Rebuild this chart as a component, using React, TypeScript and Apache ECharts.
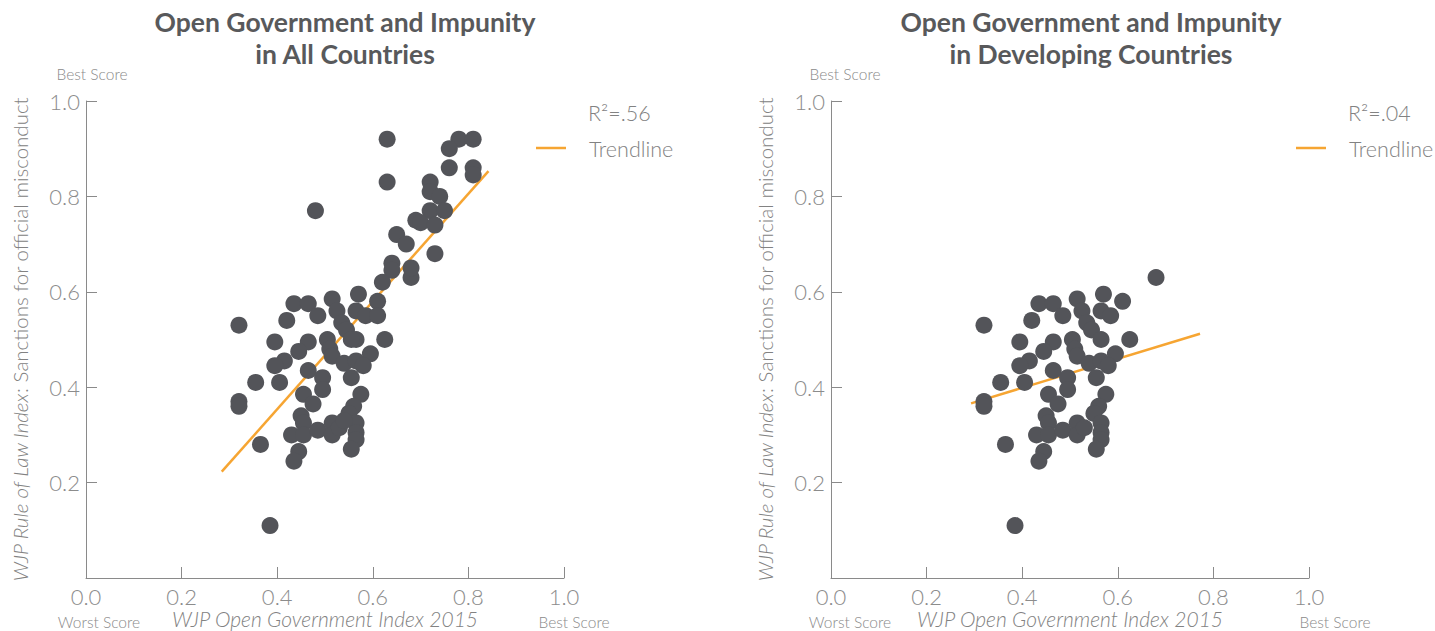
import React, { useEffect, useRef } from 'react';
import * as echarts from 'echarts';

const chartTitles = [
  'Open Government and Impunity\nin All Countries',
  'Open Government and Impunity\nin Developing Countries',
];
const xAxisName = 'WJP Open Government Index 2015';
const yAxisNameItalic = 'WJP Rule of Law Index';
const yAxisNameRest = ': Sanctions for official misconduct';
const rSquaredLabels = ['R\u00b2=.56', 'R\u00b2=.04'];
const legendLabel = 'Trendline';
const bestScore = 'Best Score';
const worstScore = 'Worst Score';

// [open government index, sanctions for official misconduct]
const developingCountries: [number, number][] = [
  [0.68, 0.63], [0.57, 0.595], [0.61, 0.58], [0.515, 0.585], [0.525, 0.56],
  [0.565, 0.56], [0.585, 0.55], [0.435, 0.575], [0.465, 0.575], [0.485, 0.55],
  [0.42, 0.54], [0.32, 0.53], [0.535, 0.535], [0.545, 0.52], [0.565, 0.5],
  [0.625, 0.5], [0.395, 0.495], [0.465, 0.495], [0.505, 0.5], [0.445, 0.475],
  [0.51, 0.48], [0.515, 0.465], [0.595, 0.47], [0.415, 0.455], [0.395, 0.445],
  [0.465, 0.435], [0.54, 0.45], [0.565, 0.455], [0.58, 0.445], [0.555, 0.42],
  [0.405, 0.41], [0.355, 0.41], [0.495, 0.42], [0.495, 0.395], [0.32, 0.37],
  [0.32, 0.36], [0.455, 0.385], [0.475, 0.365], [0.45, 0.34], [0.455, 0.325],
  [0.43, 0.3], [0.455, 0.3], [0.485, 0.31], [0.515, 0.325], [0.515, 0.3],
  [0.53, 0.315], [0.575, 0.385], [0.56, 0.36], [0.55, 0.345], [0.565, 0.325],
  [0.565, 0.305], [0.565, 0.29], [0.555, 0.27], [0.365, 0.28], [0.445, 0.265],
  [0.435, 0.245], [0.385, 0.11],
];

const developedCountries: [number, number][] = [
  [0.63, 0.92], [0.63, 0.83], [0.48, 0.77], [0.78, 0.92], [0.81, 0.92],
  [0.76, 0.9], [0.76, 0.86], [0.81, 0.86], [0.81, 0.845], [0.72, 0.83],
  [0.72, 0.81], [0.74, 0.8], [0.72, 0.77], [0.75, 0.77], [0.69, 0.75],
  [0.7, 0.745], [0.73, 0.74], [0.65, 0.72], [0.67, 0.7], [0.73, 0.68],
  [0.64, 0.66], [0.64, 0.645], [0.68, 0.65], [0.62, 0.62], [0.61, 0.55],
  [0.555, 0.5], [0.54, 0.33],
];

const allCountries = developingCountries.concat(developedCountries);

const trendAll: [number, number][] = [[0.284, 0.223], [0.842, 0.853]];
const trendDeveloping: [number, number][] = [[0.293, 0.366], [0.772, 0.512]];

const FONT = 'Lato, "Open Sans", sans-serif';
const AXIS_COLOR = '#8a8a8a';
const LABEL_COLOR = '#8c8c8c';
const TEXT_COLOR = '#828282';
const DOT_COLOR = '#535459';
const TREND_COLOR = '#f6a532';

const gridLefts = [86, 831];
const GRID_TOP = 101;
const GRID_W = 478;
const GRID_H = 477;

// per-panel annotation anchors (x positions)
const titleCenters = [340, 1086];
const legendLineX = [536, 1296];
const legendTextX = [588, 1348];
const bestTopX = [92, 845];
const worstX = [99, 850];
const bestBottomX = [574, 1335];

function makeXAxis(gi: number) {
  return {
    type: 'value',
    gridIndex: gi,
    min: 0,
    max: 1,
    interval: 0.2,
    splitLine: { show: false },
    axisLine: { show: true, lineStyle: { color: AXIS_COLOR, width: 1 } },
    axisTick: { show: true, inside: true, length: 11, lineStyle: { color: AXIS_COLOR } },
    axisLabel: {
      formatter: (v: number) => v.toFixed(1),
      color: LABEL_COLOR,
      fontSize: 22,
      lineHeight: 18,
      fontFamily: FONT,
      fontWeight: 300,
      margin: 9,
    },
    name: xAxisName,
    nameLocation: 'middle',
    nameGap: 30,
    nameMoveOverlap: false,
    nameTextStyle: {
      fontStyle: 'italic',
      fontSize: 21,
      lineHeight: 20,
      color: TEXT_COLOR,
      fontFamily: FONT,
      fontWeight: 300,
    },
  };
}

function makeYAxis(gi: number) {
  return {
    type: 'value',
    gridIndex: gi,
    min: 0,
    max: 1,
    interval: 0.2,
    splitLine: { show: false },
    axisLine: { show: true, lineStyle: { color: AXIS_COLOR, width: 1 } },
    axisTick: { show: true, inside: true, length: 11, lineStyle: { color: AXIS_COLOR } },
    axisLabel: {
      formatter: (v: number) => (v === 0 ? '' : v.toFixed(1)),
      color: LABEL_COLOR,
      fontSize: 22,
      fontFamily: FONT,
      fontWeight: 300,
      margin: 6,
    },
    name: `{i|${yAxisNameItalic}}{n|${yAxisNameRest}}`,
    nameLocation: 'middle',
    nameGap: 56,
    nameTextStyle: {
      rich: {
        i: { fontStyle: 'italic', fontSize: 20.5, color: TEXT_COLOR, fontFamily: FONT, fontWeight: 300 },
        n: { fontSize: 20.5, color: TEXT_COLOR, fontFamily: FONT, fontWeight: 300 },
      },
    },
  };
}

function legendGraphics(gi: number) {
  const textStyle = {
    fill: TEXT_COLOR,
    fontSize: 21.5,
    fontFamily: FONT,
    fontWeight: 300,
    textVerticalAlign: 'middle',
  };
  return [
    {
      type: 'text',
      x: legendTextX[gi],
      y: 113,
      style: { ...textStyle, text: rSquaredLabels[gi] },
    },
    {
      type: 'line',
      shape: { x1: legendLineX[gi], y1: 148, x2: legendLineX[gi] + 30, y2: 148 },
      style: { stroke: TREND_COLOR, lineWidth: 2.5 },
    },
    {
      type: 'text',
      x: legendTextX[gi] + 1,
      y: 149,
      style: { ...textStyle, text: legendLabel },
    },
  ];
}

function scoreGraphics(gi: number) {
  const st = {
    fill: '#8a8a8a',
    fontSize: 15.5,
    fontFamily: FONT,
    fontWeight: 300,
    textAlign: 'center',
    textVerticalAlign: 'middle',
  };
  return [
    { type: 'text', x: bestTopX[gi], y: 74, style: { ...st, text: bestScore } },
    { type: 'text', x: worstX[gi], y: 622, style: { ...st, text: worstScore } },
    { type: 'text', x: bestBottomX[gi], y: 622, style: { ...st, text: bestScore } },
  ];
}

export default function App() {
  const ref = useRef<HTMLDivElement>(null);
  useEffect(() => {
    if (!ref.current) return;
    const chart = echarts.init(ref.current, undefined, { renderer: 'svg' });
    chart.setOption({
      animation: false,
      backgroundColor: '#ffffff',
      title: chartTitles.map((t, i) => ({
        text: t,
        left: titleCenters[i],
        top: 1,
        textAlign: 'center',
        textStyle: {
          fontSize: 26.5,
          fontWeight: 'bold',
          color: '#58595b',
          fontFamily: FONT,
          lineHeight: 32,
        },
      })),
      grid: gridLefts.map((l) => ({
        left: l,
        top: GRID_TOP,
        width: GRID_W,
        height: GRID_H,
        containLabel: false,
        outerBoundsMode: 'none',
      })),
      xAxis: [makeXAxis(0), makeXAxis(1)],
      yAxis: [makeYAxis(0), makeYAxis(1)],
      series: [
        {
          type: 'line',
          name: legendLabel,
          xAxisIndex: 0,
          yAxisIndex: 0,
          data: trendAll,
          symbol: 'none',
          lineStyle: { color: TREND_COLOR, width: 2.5 },
          z: 1,
        },
        {
          type: 'scatter',
          name: 'All countries',
          xAxisIndex: 0,
          yAxisIndex: 0,
          data: allCountries,
          symbolSize: 17,
          itemStyle: { color: DOT_COLOR, opacity: 1 },
          z: 2,
        },
        {
          type: 'line',
          name: legendLabel,
          xAxisIndex: 1,
          yAxisIndex: 1,
          data: trendDeveloping,
          symbol: 'none',
          lineStyle: { color: TREND_COLOR, width: 2.5 },
          z: 1,
        },
        {
          type: 'scatter',
          name: 'Developing countries',
          xAxisIndex: 1,
          yAxisIndex: 1,
          data: developingCountries,
          symbolSize: 17,
          itemStyle: { color: DOT_COLOR, opacity: 1 },
          z: 2,
        },
      ],
      graphic: [
        ...legendGraphics(0),
        ...legendGraphics(1),
        ...scoreGraphics(0),
        ...scoreGraphics(1),
      ],
    });
    return () => chart.dispose();
  }, []);
  return (
    <div
      ref={ref}
      style={{ position: 'fixed', left: 0, top: 0, width: 1435, height: 631, background: '#fff' }}
    />
  );
}
